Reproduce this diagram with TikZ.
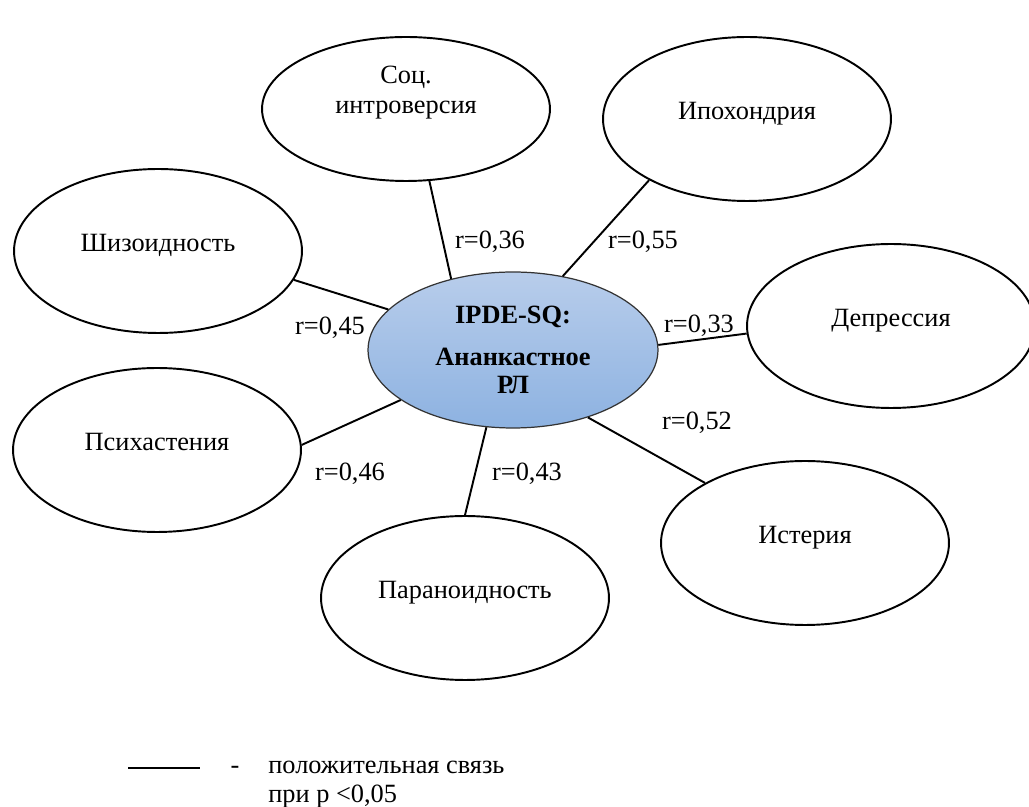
\documentclass[tikz,border=0pt]{standalone}
\usepackage{fontspec}
\setmainfont{Liberation Serif}
\usetikzlibrary{shapes.geometric}
\definecolor{coreTop}{RGB}{184,205,235}
\definecolor{coreBot}{RGB}{141,178,225}

\begin{document}
\begin{tikzpicture}[x=0.02cm,y=-0.02cm,font=\fontsize{15}{17}\selectfont,
  trait/.style={ellipse,draw,line width=1.1pt,fill=white,inner sep=0pt,
    align=center,minimum width=5.76cm,minimum height=3.28cm,
    text depth=0.34cm},
  core/.style={ellipse,draw=black!80,line width=0.7pt,inner sep=0pt,
    top color=coreTop,bottom color=coreBot,align=center,
    minimum width=5.8cm,minimum height=3.12cm,
    font=\fontsize{15}{16}\selectfont\bfseries},
  link/.style={line width=1.1pt},
  lbl/.style={inner sep=0pt}]

\useasboundingbox (0,0) rectangle (1029,807);

% ---------- centre ----------
\node[core] (core) at (513,350) {IPDE-SQ:\\[8pt]Ананкастное\\РЛ};

% ---------- scales ----------
\node[trait,minimum height=2.88cm,text depth=0.78cm] (soc) at (406,109)
  {Соц.\\интроверсия};
\node[trait] (hypo)  at (747,119) {Ипохондрия};
\node[trait] (schiz) at (158,251) {Шизоидность};
\node[trait] (depr)  at (891,326) {Депрессия};
\node[trait] (psych) at (157,450) {Психастения};
\node[trait] (hyst)  at (805,543) {Истерия};
\node[trait] (paran) at (465,598) {Параноидность};

% ---------- links ----------
\draw[link] (soc.-72)   -- (core.131);
\draw[link] (hypo.212)  -- (core.56);
\draw[link] (schiz.-12) -- (core.162);
\draw[link] (depr.183)  -- (core.2);
\draw[link] (psych.2)   -- (core.204);
\draw[link] (hyst.149)  -- (core.-42);
\draw[link] (paran.90)  -- (core.-109);

% ---------- coefficients ----------
\node[lbl] (rSoc)   at (490,242) {r=0,36};
\node[lbl] (rHypo)  at (643,242) {r=0,55};
\node[lbl] (rSchiz) at (330,328) {r=0,45};
\node[lbl] (rDepr)  at (699,326) {r=0,33};
\node[lbl] (rHyst)  at (697,423) {r=0,52};
\node[lbl] (rPsych) at (350,474) {r=0,46};
\node[lbl] (rParan) at (527,474) {r=0,43};

% legend
\coordinate (lgA) at (128,768);
\coordinate (lgB) at (200,768);
\draw[link] (lgA) -- (lgB);
\node[lbl,anchor=base] (lgDash) at (235,774) {-};
\node[lbl,anchor=base west] (lgTxt) at (268,774) {положительная связь};
\node[lbl,anchor=base west] (lgTxt2) at (268,803) {при р <0,05};
\end{tikzpicture}
\end{document}
